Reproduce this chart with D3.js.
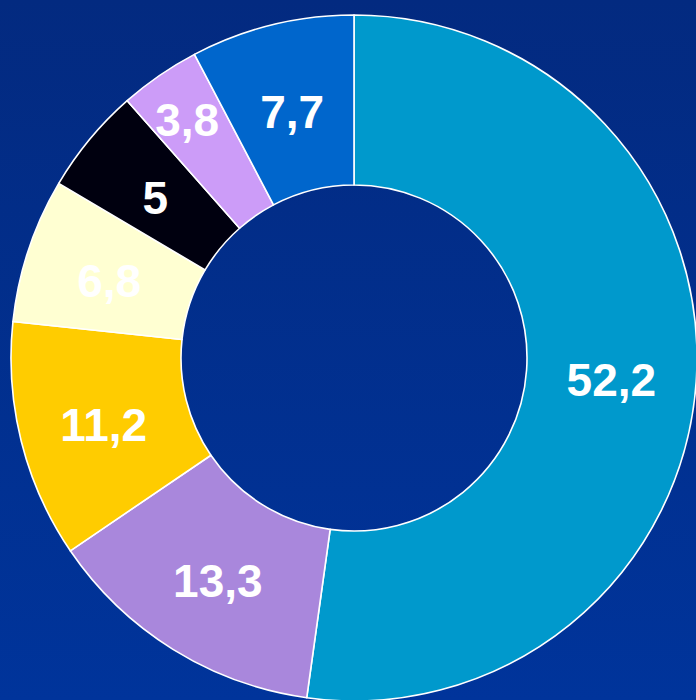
<!DOCTYPE html>
<html>
<head>
<meta charset="utf-8">
<script src="https://cdn.jsdelivr.net/npm/d3@7/dist/d3.min.js"></script>
<style>
  html, body { margin: 0; padding: 0; background: #02318f; overflow: hidden; }
  svg { display: block; }
</style>
</head>
<body>
<svg id="chart" width="696" height="700"></svg>
<script>
// Data (clockwise from 12 o'clock)
const categories = ["A", "B", "C", "D", "E", "F", "G"];
const values = [52.2, 13.3, 11.2, 6.8, 5, 3.8, 7.7];
const labels = ["52,2", "13,3", "11,2", "6,8", "5", "3,8", "7,7"];
const colors = ["#0099cc", "#a987dc", "#ffcc00", "#ffffd2", "#00000f", "#cc9cf8", "#0066cc"];

const W = 696, H = 700;
const cx = 354, cy = 358, outerR = 343, innerR = 173;
const labelR = 258;
const labelROverride = { 5: 294 };

const svg = d3.select("#chart");
const defs = svg.append("defs");
const grad = defs.append("linearGradient").attr("id", "bg")
  .attr("x1", 0).attr("y1", 0).attr("x2", 0).attr("y2", 1);
grad.append("stop").attr("offset", "0%").attr("stop-color", "#032a80");
grad.append("stop").attr("offset", "100%").attr("stop-color", "#00349b");
svg.append("rect").attr("width", W).attr("height", H).attr("fill", "url(#bg)");

const pie = d3.pie().sort(null).value(d => d.v);
const data = pie(values.map((v, i) => ({ v, i, label: labels[i], cat: categories[i] })));
const arc = d3.arc().innerRadius(innerR).outerRadius(outerR);

const g = svg.append("g").attr("transform", `translate(${cx},${cy})`);
g.selectAll("path.slice").data(data).enter().append("path")
  .attr("class", "slice")
  .attr("d", arc)
  .attr("fill", d => colors[d.data.i])
  .attr("stroke", "#ffffff")
  .attr("stroke-width", 1.6)
  .attr("stroke-linejoin", "round");

g.selectAll("text.lbl").data(data).enter().append("text")
  .attr("class", "lbl")
  .attr("transform", d => {
    const r = labelROverride[d.data.i] || labelR;
    const a = (d.startAngle + d.endAngle) / 2;
    return `translate(${r * Math.sin(a)},${-r * Math.cos(a)})`;
  })
  .attr("text-anchor", "middle")
  .attr("dy", "0.44em")
  .attr("fill", "#ffffff")
  .attr("font-family", "'Liberation Sans', Arial, sans-serif")
  .attr("font-weight", "bold")
  .attr("font-size", 46)
  .text(d => d.data.label);
</script>
</body>
</html>
